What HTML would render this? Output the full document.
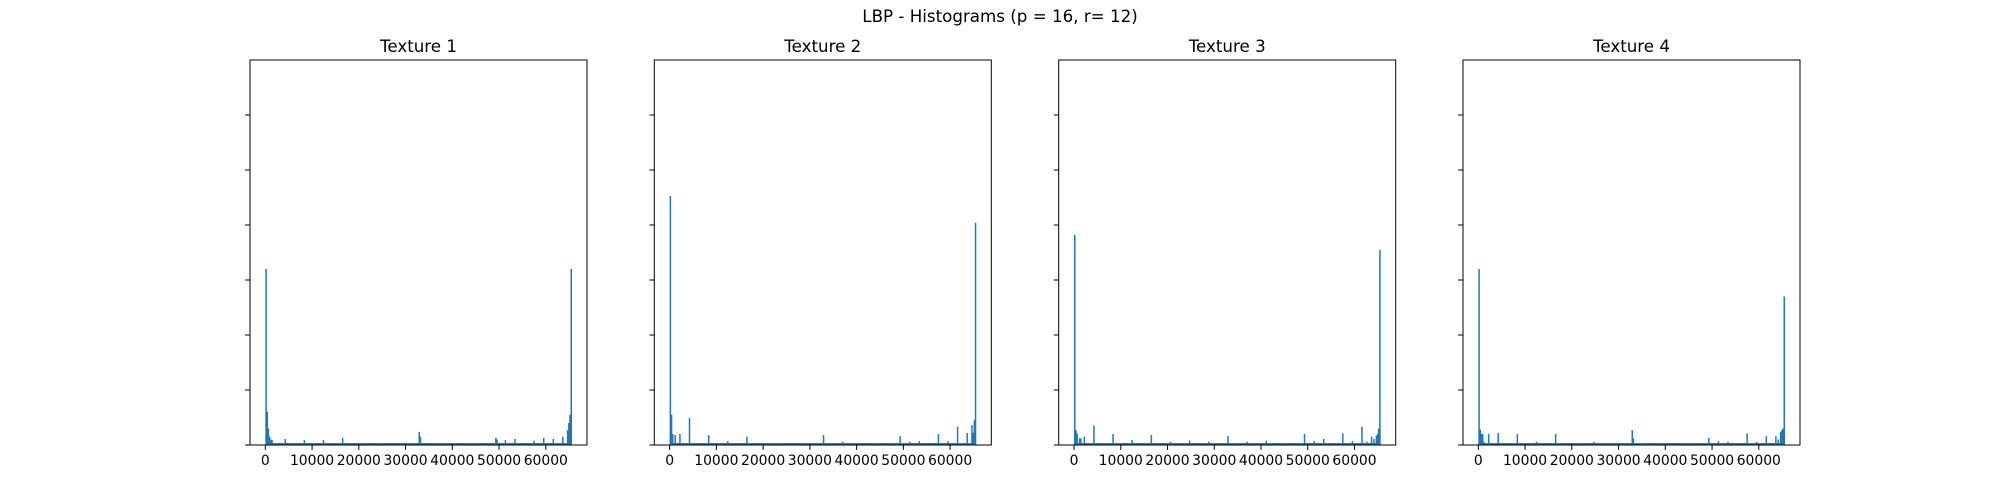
<!DOCTYPE html>
<html><head><meta charset="utf-8">
<style>html,body{margin:0;padding:0;background:#fff;}svg{display:block;font-family:"DejaVu Sans","Liberation Sans",sans-serif;}</style>
</head><body>
<svg id="fig" width="2000" height="500" viewBox="0 0 2000 500" xmlns="http://www.w3.org/2000/svg">
<rect width="2000" height="500" fill="#fff"/>
<text x="1000" y="22" text-anchor="middle" font-size="16.7">LBP - Histograms (p = 16, r= 12)</text>
</svg>
<script>
// Data (heights in y-tick units, bins of width 256 over 0..65535)
const titles = ["Texture 1","Texture 2","Texture 3","Texture 4"];
const xTicks = [0,10000,20000,30000,40000,50000,60000];
const yTicks = [0,1,2,3,4,5,6];
const floorVals = [0.035,0.035,0.035,0.035];
const t1Bins = [0,1,2,3,4,5,16,32,48,64,128,129,192,193,200,208,224,232,240,248,252,253,254,255];
const t1Vals = [3.2,0.6,0.3,0.15,0.1,0.09,0.11,0.09,0.09,0.13,0.24,0.15,0.13,0.1,0.09,0.11,0.08,0.13,0.11,0.15,0.27,0.4,0.55,3.2];
const t2Bins = [0,1,2,4,8,16,32,48,64,128,144,192,200,208,224,232,240,248,252,253,254,255];
const t2Vals = [4.53,0.55,0.2,0.18,0.2,0.49,0.18,0.07,0.15,0.18,0.06,0.16,0.06,0.07,0.2,0.07,0.33,0.22,0.36,0.22,0.45,4.04];
const t3Bins = [0,1,2,4,5,8,16,32,48,64,80,96,112,128,144,160,192,200,208,224,232,240,244,248,250,252,253,254,255];
const t3Vals = [3.82,0.27,0.21,0.12,0.12,0.15,0.35,0.2,0.09,0.18,0.06,0.08,0.06,0.16,0.06,0.08,0.2,0.07,0.11,0.21,0.07,0.33,0.06,0.15,0.11,0.17,0.2,0.3,3.55];
const t4Bins = [0,1,2,3,4,8,16,32,48,64,96,128,129,192,200,208,224,232,240,248,250,252,253,254,255];
const t4Vals = [3.2,0.28,0.2,0.2,0.06,0.2,0.22,0.2,0.06,0.2,0.06,0.27,0.12,0.13,0.07,0.06,0.21,0.06,0.16,0.16,0.1,0.24,0.27,0.3,2.7];
const allBins = [t1Bins,t2Bins,t3Bins,t4Bins];
const allVals = [t1Vals,t2Vals,t3Vals,t4Vals];

const svg = document.getElementById('fig');
const NS = 'http://www.w3.org/2000/svg';
const axLeft = [250,654.3,1058.7,1463];
const axW = 337, axTop = 60, axBot = 445;
const xMin = -3277, xMax = 68812, yMax = 7;
function mk(tag, attrs, parent){const e=document.createElementNS(NS,tag);for(const k in attrs)e.setAttribute(k,attrs[k]);(parent||svg).appendChild(e);return e;}

for (let a=0;a<4;a++){
  const L = axLeft[a];
  const xs = v => L + (v - xMin)/(xMax - xMin)*axW;
  const ys = v => axBot - v/yMax*(axBot-axTop);
  const g = mk('g',{});
  
  
  const vals = new Array(256).fill(floorVals[a]);
  allBins[a].forEach((b,i)=>{vals[b]=allVals[a][i];});
  for (let b=0;b<256;b++){
    const x0 = xs(b*256), x1 = xs((b+1)*256);
    const r = mk('rect',{x:x0,y:ys(vals[b]),width:Math.max(x1-x0,0.6)+0.3,height:axBot-ys(vals[b]),fill:'#1f77b4'},g);
    
    
  }
  const f = mk('rect',{x:L,y:axTop,width:axW,height:axBot-axTop,fill:'none',stroke:'#000','stroke-width':1},g);
  
  
  yTicks.forEach(t=>{
    const tk = mk('line',{x1:L-4.9,x2:L,y1:ys(t),y2:ys(t),stroke:'#000','stroke-width':1},g);
    
    
  });
  xTicks.forEach(t=>{
    const x = xs(t);
    const tk = mk('line',{x1:x,x2:x,y1:axBot,y2:axBot+4.9,stroke:'#000','stroke-width':1},g);
    
    
    const lb = mk('text',{x:x,y:465,'text-anchor':'middle','font-size':13.9},g);
    lb.textContent = String(t);
    
    
  });
  const tt = mk('text',{x:L+axW/2,y:52,'text-anchor':'middle','font-size':16.7},g);
  tt.textContent = titles[a];
  
  
}
</script>
</body></html>
